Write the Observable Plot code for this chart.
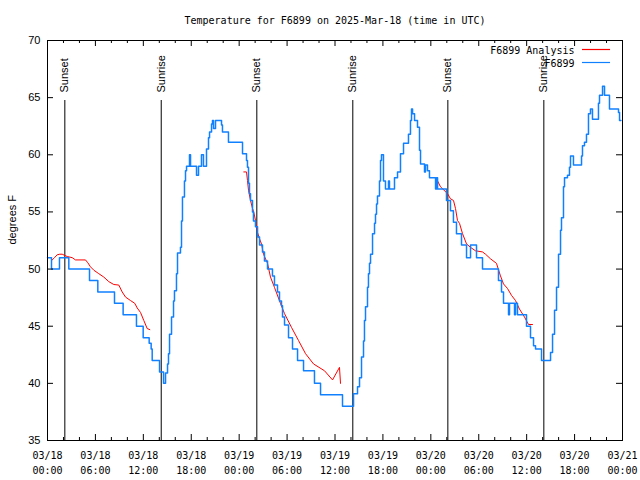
<!DOCTYPE html>
<html><head><meta charset="utf-8">
<script src="https://cdn.jsdelivr.net/npm/d3@7"></script>
<script src="https://cdn.jsdelivr.net/npm/@observablehq/plot@0.6"></script>
<style>html,body{margin:0;padding:0;background:#fff}svg{display:block}</style>
</head><body><div id="chart"></div>
<script>
const chartTitle = "Temperature for F6899 on 2025-Mar-18 (time in UTC)";
const yLabel = "degrees F";
const seriesNames = ["F6899 Analysis", "F6899"];
const seriesColors = ["#ff0000", "#1080ff"];

// observations (F6899), hours since 2025-03-18 00:00 UTC, step-after
const obsHours = [0.00,0.50,1.50,2.67,5.26,6.30,8.39,9.47,11.14,11.98,12.73,12.98,13.11,14.03,14.53,14.78,15.03,15.15,15.28,15.53,15.78,15.90,16.15,16.28,16.65,16.78,16.90,17.15,17.28,17.41,17.78,17.91,18.66,18.91,19.28,19.53,19.91,20.16,20.29,20.54,20.66,20.79,21.04,21.79,21.91,22.66,24.42,24.92,25.04,25.17,25.29,25.42,25.67,25.79,26.04,26.30,26.55,26.92,27.17,27.55,28.17,28.42,28.80,29.05,29.30,29.43,29.68,30.18,30.68,31.31,32.06,33.43,34.19,36.94,38.32,38.82,39.07,39.32,39.57,39.69,39.82,40.07,40.19,40.32,40.45,40.70,40.95,41.07,41.20,41.32,41.57,41.70,41.82,42.07,42.32,42.70,42.82,43.45,43.83,44.20,44.58,45.20,45.45,45.58,45.71,45.96,46.33,46.58,46.71,47.21,47.33,47.58,47.83,48.59,48.71,48.84,49.96,50.46,50.83,51.21,51.84,52.47,52.97,53.72,54.47,56.47,56.85,57.10,57.73,57.85,58.48,58.60,58.85,59.98,60.48,60.86,61.11,61.86,62.99,63.24,63.49,63.74,63.99,64.24,64.36,64.61,64.74,65.11,65.36,65.49,65.86,66.87,66.99,67.24,67.49,67.74,67.99,68.24,68.99,69.12,69.50,69.75,70.37,71.50,71.63,71.80];
const obsTemps = [51,50,51,50,49,48,47,46,45,44,43.5,43,42,41,40,40.9,41.7,42.6,44.3,45.8,47.2,48.1,49.6,51.4,51.9,54.2,56.3,57.7,58.6,59,60,59,58.2,59,60,59,60.5,61.5,62,62.7,63,62.3,63,62.6,62,61.1,60.1,59.5,58.9,57.5,56.6,56,55,54.2,53.7,52.8,52.1,51.5,50.7,50,49.4,48.6,48,47.2,46.8,45.8,45.1,44,43,42,41.1,40,39,38,39.1,39.7,40.5,42.3,43.7,45.5,46.7,48.4,49.6,50.5,51.3,53.1,54,54.8,55.7,56.4,57.7,59.5,60,57.7,57,57.7,57,58,58.5,60.1,61,61.8,63,64,63.6,63,62.4,60.4,59.2,58.5,59.1,58.6,58,57,58,57,56,55.1,54.1,53.1,52.1,51,52.1,51,50,49,48,47,46,47,46,47,46,45,44,43.3,43,42,42.7,44.3,46.4,48.4,51.3,53.4,54.5,57.2,58,58.2,58.9,59.9,59.1,59.9,60.8,61.1,61.8,63.6,64,63.1,64.5,65.2,66,65.2,64,63.7,63,63];

// analysis (F6899 Analysis), three runs
const anaHours = [0.59,0.88,1.21,1.54,1.84,2.13,2.47,3.09,3.51,4.76,5.05,5.38,5.80,6.42,7.05,7.68,8.30,8.93,9.35,9.77,10.39,10.93,11.23,11.65,12.06,12.48,12.81,
  24.58,24.92,25.04,25.17,25.42,25.67,25.79,26.05,26.30,26.55,26.80,27.05,27.55,27.92,28.42,29.17,29.68,30.55,31.43,32.31,33.31,34.69,35.69,36.56,36.69,
  48.71,49.21,50.09,50.46,50.84,51.09,51.34,51.59,51.97,52.47,52.97,53.59,54.47,54.85,55.47,56.22,56.72,57.10,57.60,58.10,58.60,59.10,59.73,60.23,60.73];
const anaTemps = [50.8,51.0,51.25,51.3,51.3,51.2,51.1,51.0,50.8,50.8,50.55,50.2,49.9,49.6,49.3,48.9,48.65,48.6,48.0,47.55,47.25,47.0,46.6,46.2,45.5,44.8,44.7,
  58.5,58.5,57.75,56.9,56.0,55.3,55.1,54.25,53.2,52.65,52.2,51.3,50.5,49.3,48.4,47.0,46.1,44.9,43.75,42.6,41.7,41.1,40.3,41.4,40.0,
  57.9,57.2,56.6,56.15,56.0,55.3,54.25,54.0,53.1,52.2,51.9,51.6,51.5,51.3,50.9,50.5,49.4,48.7,48.3,47.7,47.25,46.5,45.8,45.15,45.15];
const anaRun = [...Array(27).fill(1), ...Array(25).fill(2), ...Array(25).fill(3)];

const sunHours = [2.17, 14.24, 26.21, 38.23, 50.13, 62.15];
const sunLabels = ["Sunset", "Sunrise", "Sunset", "Sunrise", "Sunset", "Sunrise"];

const yTicks = [35, 40, 45, 50, 55, 60, 65, 70];
const xMajorHours = [0, 6, 12, 18, 24, 30, 36, 42, 48, 54, 60, 66, 72];
const xMinorHours = [2, 4, 8, 10, 14, 16, 20, 22, 26, 28, 32, 34, 38, 40, 44, 46, 50, 52, 56, 58, 62, 64, 68, 70];

const base = Date.UTC(2025, 2, 18);
const toDate = h => new Date(base + h * 3600000);

const obs = obsHours.map((h, i) => ({t: toDate(h), v: obsTemps[i]}));
const ana = anaHours.map((h, i) => ({t: toDate(h), v: anaTemps[i], run: anaRun[i]}));
const sun = sunHours.map((h, i) => ({t: toDate(h), label: sunLabels[i]}));
const majors = xMajorHours.map(toDate);
const minors = xMinorHours.map(toDate);

const W = 640, H = 480, mL = 47, mR = 18, mT = 40, mB = 40;
const fw = W - mL - mR, fh = H - mT - mB;
const mono = "'DejaVu Sans Mono', monospace";
const sans = "'Liberation Sans', Arial, sans-serif";
const fmtDay = d3.utcFormat("%m/%d");
const fmtHM = d3.utcFormat("%H:%M");

function legendLines(...args) {
  const dim = args.find(a => a && typeof a === "object" && "marginRight" in a && "width" in a) || {width: W, marginRight: mR, marginTop: mT};
  const g = d3.create("svg:g");
  const x2 = dim.width - dim.marginRight - 12;
  const x1 = x2 - 28;
  seriesColors.forEach((c, i) => {
    const y = dim.marginTop + 9.5 + i * 13;
    g.append("line").attr("x1", x1).attr("x2", x2).attr("y1", y).attr("y2", y)
      .attr("stroke", c).attr("stroke-width", 1.2);
  });
  return g.node();
}

const chart = Plot.plot({
  width: W, height: H,
  marginLeft: mL, marginRight: mR, marginTop: mT, marginBottom: mB,
  style: {fontFamily: sans, fontSize: "11px", background: "#fff", color: "black", overflow: "visible"},
  x: {type: "utc", domain: [toDate(0), toDate(72)], axis: null},
  y: {domain: [35, 70], axis: null},
  marks: [
    Plot.ruleX(sun, {x: "t", insetTop: 60, stroke: "black", strokeWidth: 1}),
    Plot.text(sun, {x: "t", text: "label", frameAnchor: "top", dy: 52, rotate: -90, textAnchor: "start", lineAnchor: "middle", fill: "black", fontFamily: sans, fontSize: 11}),
    Plot.line(ana, {x: "t", y: "v", z: "run", stroke: seriesColors[0], strokeWidth: 1}),
    Plot.line(obs, {x: "t", y: "v", curve: "step-after", stroke: seriesColors[1], strokeWidth: 1.5}),
    Plot.ruleX(majors, {x: d => d, insetTop: fh - 6, stroke: "black"}),
    Plot.ruleX(majors, {x: d => d, insetBottom: fh - 6, stroke: "black"}),
    Plot.ruleX(minors, {x: d => d, insetTop: fh - 3, stroke: "black"}),
    Plot.ruleX(minors, {x: d => d, insetBottom: fh - 3, stroke: "black"}),
    Plot.ruleY(yTicks, {y: d => d, insetRight: fw - 6, stroke: "black"}),
    Plot.ruleY(yTicks, {y: d => d, insetLeft: fw - 6, stroke: "black"}),
    Plot.frame({stroke: "black"}),
    Plot.text(yTicks, {y: d => d, text: d => String(d), frameAnchor: "left", dx: -7, textAnchor: "end", lineAnchor: "middle", fontFamily: sans, fontSize: 11}),
    Plot.text(majors, {x: d => d, text: d => fmtDay(d), frameAnchor: "bottom", dy: 15, lineAnchor: "middle", fontFamily: mono, fontSize: 10}),
    Plot.text(majors, {x: d => d, text: d => fmtHM(d), frameAnchor: "bottom", dy: 30, lineAnchor: "middle", fontFamily: mono, fontSize: 10}),
    Plot.text([chartTitle], {text: d => d, frameAnchor: "top", dy: -20, lineAnchor: "middle", fontFamily: mono, fontSize: 10}),
    Plot.text([yLabel], {text: d => d, frameAnchor: "left", dx: -35, dy: 4, rotate: -90, lineAnchor: "middle", fontFamily: sans, fontSize: 11}),
    Plot.text([seriesNames[0]], {text: d => d, frameAnchor: "top-right", dx: -48, dy: 10, lineAnchor: "middle", fontFamily: mono, fontSize: 10, textAnchor: "end"}),
    Plot.text([seriesNames[1]], {text: d => d, frameAnchor: "top-right", dx: -48, dy: 23, lineAnchor: "middle", fontFamily: mono, fontSize: 10, textAnchor: "end"}),
    legendLines
  ]
});
document.getElementById("chart").appendChild(chart);
</script>
</body></html>
